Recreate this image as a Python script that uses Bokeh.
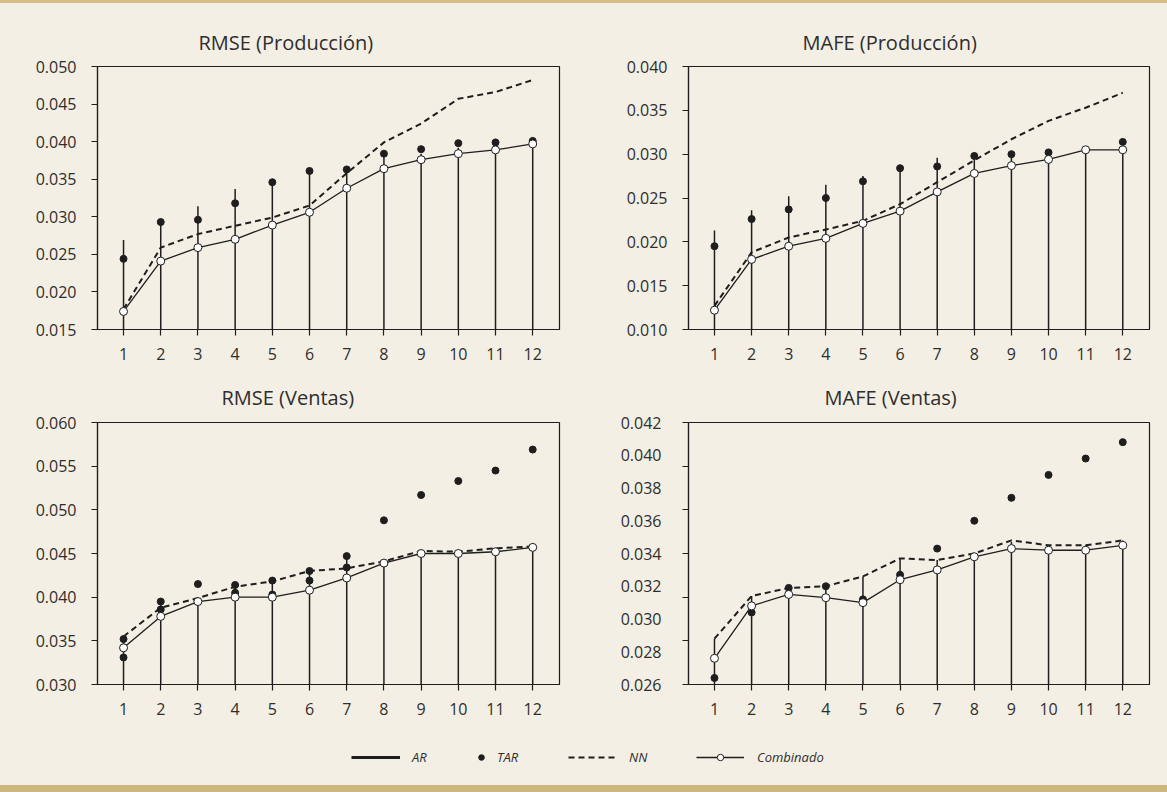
from bokeh.plotting import figure
from bokeh.layouts import column, row
from bokeh.models import (Range1d, FixedTicker, NumeralTickFormatter,
                          Legend, LegendItem, Title, GlobalInlineStyleSheet)
from bokeh.embed import file_html
from bokeh.resources import INLINE

# ---------------- data ----------------
horizons = [1, 2, 3, 4, 5, 6, 7, 8, 9, 10, 11, 12]

ar_rmse_prod = [0.0269, 0.0293, 0.0314, 0.0337, 0.0346, 0.0360, 0.0363, 0.0381, 0.0384, 0.0392, 0.0395, 0.0400]
tar_rmse_prod = [0.0244, 0.0293, 0.0296, 0.0318, 0.0346, 0.0361, 0.0363, 0.0384, 0.0390, 0.0398, 0.0399, 0.0401]
nn_rmse_prod = [0.0177, 0.0259, 0.0277, 0.0288, 0.0299, 0.0315, 0.0358, 0.0399, 0.0424, 0.0457, 0.0466, 0.0482]
comb_rmse_prod = [0.0174, 0.0241, 0.0259, 0.0270, 0.0289, 0.0306, 0.0338, 0.0364, 0.0376, 0.0384, 0.0389, 0.0397]

ar_mafe_prod = [0.0213, 0.0236, 0.0252, 0.0265, 0.0275, 0.0285, 0.0296, 0.0298, 0.0300, 0.0302, 0.0305, 0.0313]
tar_mafe_prod = [0.0195, 0.0226, 0.0237, 0.0250, 0.0269, 0.0284, 0.0286, 0.0298, 0.0300, 0.0302, 0.0305, 0.0314]
nn_mafe_prod = [0.0127, 0.0188, 0.0205, 0.0214, 0.0224, 0.0243, 0.0268, 0.0293, 0.0317, 0.0338, 0.0353, 0.0370]
comb_mafe_prod = [0.0122, 0.0180, 0.0195, 0.0204, 0.0221, 0.0235, 0.0257, 0.0278, 0.0287, 0.0294, 0.0305, 0.0305]

ar_rmse_vent = [0.0352, 0.0395, 0.0395, 0.0414, 0.0419, 0.0430, 0.0447, 0.0439, 0.0450, 0.0450, 0.0452, 0.0457]
tar_rmse_vent = [0.0331, 0.0386, 0.0415, 0.0405, 0.0403, 0.0419, 0.0434, 0.0488, 0.0517, 0.0533, 0.0545, 0.0569]
nn_rmse_vent = [0.0355, 0.0388, 0.0399, 0.0412, 0.0418, 0.0430, 0.0433, 0.0441, 0.0453, 0.0452, 0.0456, 0.0458]
comb_rmse_vent = [0.0342, 0.0378, 0.0395, 0.0400, 0.0400, 0.0408, 0.0422, 0.0439, 0.0450, 0.0450, 0.0452, 0.0457]

ar_mafe_vent = [0.0288, 0.0314, 0.0320, 0.0320, 0.0326, 0.0337, 0.0336, 0.0340, 0.0347, 0.0345, 0.0345, 0.0348]
tar_mafe_vent = [0.0264, 0.0304, 0.0319, 0.0320, 0.0312, 0.0327, 0.0343, 0.0360, 0.0374, 0.0388, 0.0398, 0.0408]
nn_mafe_vent = [0.0288, 0.0314, 0.0319, 0.0320, 0.0326, 0.0337, 0.0336, 0.0340, 0.0348, 0.0345, 0.0345, 0.0348]
comb_mafe_vent = [0.0276, 0.0308, 0.0315, 0.0313, 0.0310, 0.0324, 0.0330, 0.0338, 0.0343, 0.0342, 0.0342, 0.0345]

ticks_rmse_prod = [0.015, 0.020, 0.025, 0.030, 0.035, 0.040, 0.045, 0.050]
ticks_mafe_prod = [0.010, 0.015, 0.020, 0.025, 0.030, 0.035, 0.040]
ticks_rmse_vent = [0.030, 0.035, 0.040, 0.045, 0.050, 0.055, 0.060]
labels_mafe_vent = [0.026, 0.028, 0.030, 0.032, 0.034, 0.036, 0.038, 0.040, 0.042]
marks_mafe_vent = [0.026, 0.028667, 0.031333, 0.034, 0.036667, 0.039333, 0.042]

titles = ["RMSE (Producción)", "MAFE (Producción)", "RMSE  (Ventas)", "MAFE (Ventas)"]
legend_labels = ["AR", "TAR", "NN", "Combinado"]

# ---------------- style ----------------
FONT = "Open Sans"
INK = "#1e1e1e"
TXT = "#2e2e2e"
BG = "#F4EFE4"
GOLD_TOP = "#D6BD82"
GOLD_BOT = "#CDB87C"


def style_axis(ax, standoff):
    ax.axis_line_color = INK
    ax.axis_line_width = 1.2
    ax.major_tick_line_color = INK
    ax.major_tick_line_width = 1.2
    ax.major_tick_out = 6
    ax.major_tick_in = 0
    ax.minor_tick_line_color = None
    ax.major_label_text_font = FONT
    ax.major_label_text_font_size = "16px"
    ax.major_label_text_color = TXT
    ax.major_label_standoff = standoff


def panel(title, ar, tar, nn, comb, yticks, width, height, mb_left, mb_right,
          mb_top, mb_bottom, title_offset, title_standoff, ar_dots=False, marks=None):
    ymin, ymax = yticks[0], yticks[-1]
    p = figure(width=width, height=height, output_backend="svg", toolbar_location=None,
               tools="", x_range=Range1d(0.3, 12.72), y_range=Range1d(ymin, ymax),
               min_border_left=mb_left, min_border_right=mb_right,
               min_border_top=mb_top, min_border_bottom=mb_bottom)
    p.background_fill_alpha = 0
    p.border_fill_alpha = 0
    p.outline_line_color = INK
    p.outline_line_width = 1.2
    p.xgrid.visible = False
    p.ygrid.visible = False

    p.add_layout(Title(text=title, align="left", offset=title_offset, standoff=title_standoff,
                       text_font=FONT, text_font_size="20px", text_font_style="normal",
                       text_color=TXT), "above")

    p.xaxis.ticker = FixedTicker(ticks=horizons)
    style_axis(p.xaxis[0], 12)

    yax = p.yaxis[0]
    yax.formatter = NumeralTickFormatter(format="0.000")
    if marks is None:
        yax.ticker = FixedTicker(ticks=yticks)
        style_axis(yax, 15)
    else:
        # in the original, tick marks and labels are not aligned:
        # labels every 0.002, tick marks at six equal intervals
        yax.ticker = FixedTicker(ticks=yticks, minor_ticks=marks)
        style_axis(yax, 21)
        yax.major_tick_line_color = None
        yax.major_tick_out = 0
        yax.minor_tick_line_color = INK
        yax.minor_tick_line_width = 1.2
        yax.minor_tick_out = 6
        yax.minor_tick_in = 0

    base = [ymin] * len(horizons)
    p.segment(x0=horizons, y0=base, x1=horizons, y1=ar, line_color=INK, line_width=1.5)
    if ar_dots:
        p.scatter(horizons, ar, size=7, marker="circle", fill_color=INK, line_color=INK)
    p.line(horizons, nn, line_color=INK, line_width=2, line_dash="6 4")
    p.line(horizons, comb, line_color=INK, line_width=1.3)
    p.scatter(horizons, tar, size=7, marker="circle", fill_color=INK, line_color=INK)
    p.scatter(horizons, comb, size=8, marker="circle", fill_color="white",
              line_color=INK, line_width=1)
    return p


H1, H2 = 369, 360
p1 = panel(titles[0], ar_rmse_prod, tar_rmse_prod, nn_rmse_prod, comb_rmse_prod,
           ticks_rmse_prod, 590, H1, 97, 31, 66, H1 - 329, 101, 22)
p2 = panel(titles[1], ar_mafe_prod, tar_mafe_prod, nn_mafe_prod, comb_mafe_prod,
           ticks_mafe_prod, 577, H1, 98, 18, 66, H1 - 329, 114, 22)
p3 = panel(titles[2], ar_rmse_vent, tar_rmse_vent, nn_rmse_vent, comb_rmse_vent,
           ticks_rmse_vent, 590, H2, 97, 31, 422 - H1, H1 + H2 - 685, 124, 23, ar_dots=True)
p4 = panel(titles[3], ar_mafe_vent, tar_mafe_vent, nn_mafe_vent, comb_mafe_vent,
           labels_mafe_vent, 577, H2, 98, 18, 421 - H1, H1 + H2 - 684, 136, 23,
           marks=marks_mafe_vent)

# ---------------- legend strip ----------------
LH = 792 - H1 - H2
lf = figure(width=1167, height=LH, output_backend="svg", toolbar_location=None, tools="",
            x_range=Range1d(0, 1), y_range=Range1d(0, 1), x_axis_type=None, y_axis_type=None,
            min_border=0)
lf.background_fill_alpha = 0
lf.border_fill_alpha = 0
lf.outline_line_color = None
lf.xgrid.visible = False
lf.ygrid.visible = False

# legend-only renderers (their data lies outside the visible range)
off = [-5, -4]
r_ar = lf.line(off, off, line_color=INK, line_width=3)
r_tar = lf.scatter(off, off, size=7, marker="circle", fill_color=INK, line_color=INK)
r_nn = lf.line(off, off, line_color=INK, line_width=2, line_dash="6 4")
r_c1 = lf.line(off, off, line_color=INK, line_width=1.3)
r_c2 = lf.scatter(off, off, size=8, marker="circle", fill_color="white", line_color=INK)

ly = (792 - 758) - 8
specs = [
    (legend_labels[0], [r_ar], 351, 49, 12),
    (legend_labels[1], [r_tar], 474, 14, 9),
    (legend_labels[2], [r_nn], 568, 48, 13),
    (legend_labels[3], [r_c1, r_c2], 696, 48, 13),
]
for lab, rends, x0, gw, so in specs:
    lg = Legend(items=[LegendItem(label=lab, renderers=rends)], location=(x0, ly),
                glyph_width=gw, glyph_height=16, label_height=16, label_standoff=so,
                padding=0, margin=0, border_line_color=None, background_fill_alpha=0,
                label_text_font=FONT, label_text_font_style="italic",
                label_text_font_size="13px", label_text_color=TXT)
    lf.add_layout(lg)

css = GlobalInlineStyleSheet(css=(
    "html,body{margin:0;padding:0;overflow:hidden;}"
    "html{height:100%;background:linear-gradient(to bottom,"
    f"{GOLD_TOP} 0px,{GOLD_TOP} 3px,{BG} 3px,{BG} 785px,{GOLD_BOT} 785px,{GOLD_BOT} 792px);}}"
    "body{background:transparent;}"
))

layout = column(row(p1, p2), row(p3, p4), lf)
layout.stylesheets = [css]

open("out.html", "w").write(file_html(layout, INLINE))
